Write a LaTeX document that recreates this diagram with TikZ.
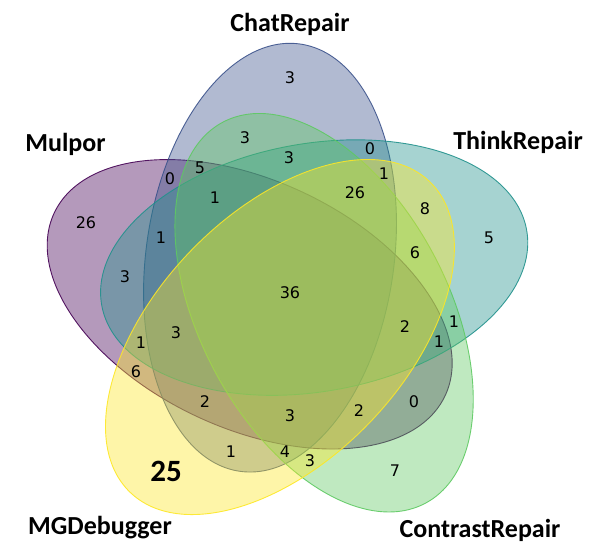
\documentclass[tikz,border=0pt]{standalone}
\usepackage{fontspec}
\setmainfont{DejaVu Sans}
\newfontfamily\namefont{Carlito}
\definecolor{cMul}{HTML}{440154}
\definecolor{cChat}{HTML}{3B528B}
\definecolor{cThink}{HTML}{21918C}
\definecolor{cContr}{HTML}{5EC962}
\definecolor{cMG}{HTML}{FDE725}
\tikzset{
  ell/.style={fill opacity=0.4, draw opacity=0.9, line width=0.9pt},
  num/.style={font=\fontsize{16}{16}\selectfont, inner sep=0pt},
  bignum/.style={font=\namefont\bfseries\fontsize{31}{31}\selectfont, inner sep=0pt},
  setname/.style={font=\namefont\bfseries\fontsize{26}{26}\selectfont, anchor=base, inner sep=0pt}
}
\begin{document}
\begin{tikzpicture}[x=1pt,y=1pt]
\useasboundingbox (0,0) rectangle (598,560);
% ellipses
\path[ell, fill=cMul, draw=cMul, rotate around={155:(249.69,255.70)}] (249.69,255.70) ellipse [x radius=215.76pt, y radius=124pt];
\path[ell, fill=cChat, draw=cChat, rotate around={82:(270.02,302.33)}] (270.02,302.33) ellipse [x radius=215.76pt, y radius=124pt];
\path[ell, fill=cThink, draw=cThink, rotate around={10:(314.17,292.41)}] (314.17,292.41) ellipse [x radius=215.76pt, y radius=124pt];
\path[ell, fill=cContr, draw=cContr, rotate around={118:(324.09,247.27)}] (324.09,247.27) ellipse [x radius=215.76pt, y radius=124pt];
\path[ell, fill=cMG, draw=cMG, rotate around={46:(279.94,222.97)}] (279.94,222.97) ellipse [x radius=215.76pt, y radius=124pt];
% set names
\node[setname] (lMul) at (65.5,408) {Mulpor};
\node[setname] (lChat) at (290,528.3) {ChatRepair};
\node[setname] (lThink) at (518,410) {ThinkRepair};
\node[setname] (lContr) at (480,22) {ContrastRepair};
\node[setname] (lMG) at (100,25) {MGDebugger};
% counts
\node[num] (r01) at (290,482) {3};
\node[num] (r02) at (245,422) {3};
\node[num] (r03) at (289,402) {3};
\node[num] (r04) at (370,411) {0};
\node[num] (r05) at (384,386) {1};
\node[num] (r06) at (355,367) {26};
\node[num] (r07) at (425,351) {8};
\node[num] (r08) at (489,322) {5};
\node[num] (r09) at (415,307) {6};
\node[num] (r10) at (170,381) {0};
\node[num] (r11) at (200,392) {5};
\node[num] (r12) at (215,362) {1};
\node[num] (r13) at (86,337) {26};
\node[num] (r14) at (161,322) {1};
\node[num] (r15) at (125,283) {3};
\node[num] (r16) at (290,267) {36};
\node[num] (r17) at (176,227) {3};
\node[num] (r18) at (141,217) {1};
\node[num] (r19) at (136,188) {6};
\node[num] (r20) at (205,158) {2};
\node[num] (r21) at (290,144) {3};
\node[num] (r22) at (231,108) {1};
\node[num] (r23) at (285,108) {4};
\node[bignum] (r24) at (166,89) {25};
\node[num] (r25) at (405,233) {2};
\node[num] (r26) at (454,238) {1};
\node[num] (r27) at (439,218) {1};
\node[num] (r28) at (414,158) {0};
\node[num] (r29) at (359,149) {2};
\node[num] (r30) at (310,99) {3};
\node[num] (r31) at (395,89) {7};
\end{tikzpicture}
\end{document}
